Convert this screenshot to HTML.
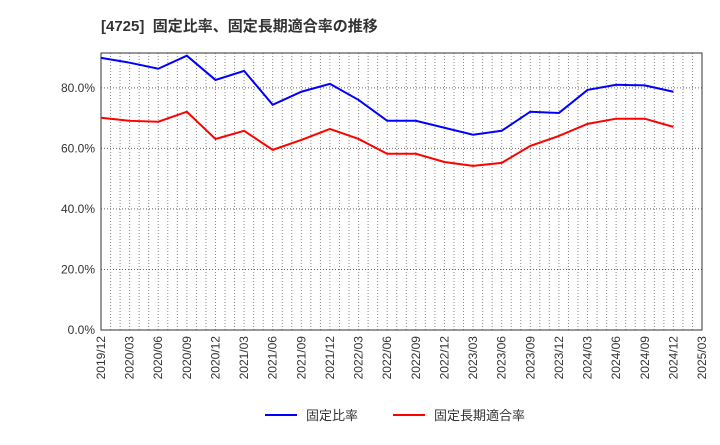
<!DOCTYPE html>
<html><head><meta charset="utf-8"><style>
body{margin:0;background:#fff;font-family:"Liberation Sans","Noto Sans CJK JP",sans-serif}
</style></head><body>
<svg id="c" width="720" height="440" xmlns="http://www.w3.org/2000/svg">
<text x="101" y="31" font-size="15" font-weight="bold" fill="#333" xml:space="preserve">[4725]  固定比率、固定長期適合率の推移</text>
<g id="grid"></g><g id="axes"></g><g id="series"></g>
<g>
<line x1="265" y1="415" x2="297" y2="415" stroke="#0000ff" stroke-width="2"/>
<text x="306" y="420" font-size="13" fill="#333">固定比率</text>
<line x1="393" y1="415" x2="425" y2="415" stroke="#ff0000" stroke-width="2"/>
<text x="434" y="420" font-size="13" fill="#333">固定長期適合率</text>
</g>
</svg>
<script>
const xLabels=["2019/12","2020/03","2020/06","2020/09","2020/12","2021/03","2021/06","2021/09","2021/12","2022/03","2022/06","2022/09","2022/12","2023/03","2023/06","2023/09","2023/12","2024/03","2024/06","2024/09","2024/12","2025/03"];
const yTicks=[0,20,40,60,80];
const fixedRatio=[89.9,88.3,86.3,90.6,82.6,85.6,74.4,78.7,81.3,76.0,69.1,69.1,66.8,64.5,65.8,72.1,71.7,79.3,81.0,80.8,78.7];
const longTermFit=[70.1,69.1,68.8,72.1,63.1,65.8,59.5,62.8,66.4,63.1,58.2,58.2,55.5,54.2,55.2,60.8,64.1,68.1,69.8,69.8,67.1];
const L=101,R=702,T=53,B=330,YMAX=91.5;
const xs=i=>L+(R-L)*i/(xLabels.length-1);
const ys=v=>B-(B-T)*v/YMAX;
const NS="http://www.w3.org/2000/svg";
function mk(p,t,a){const e=document.createElementNS(NS,t);for(const k in a)e.setAttribute(k,a[k]);p.appendChild(e);return e;}
const g=document.getElementById('grid'),ax=document.getElementById('axes'),s=document.getElementById('series');
for(let m=1;m<(xLabels.length-1)*3;m++){const x=L+(R-L)*m/((xLabels.length-1)*3);
const l=mk(g,'line',{x1:x,y1:T,x2:x,y2:B,stroke:'#888','stroke-dasharray':'1,2','stroke-width':1});

}
yTicks.forEach(v=>{const y=ys(v);
if(v>0){const l=mk(g,'line',{x1:L,y1:y,x2:R,y2:y,stroke:'#666','stroke-dasharray':'1,2','stroke-width':1});

}
const t=mk(ax,'text',{x:L-6,y:y+4,'text-anchor':'end','font-size':12,fill:'#333'});t.textContent=v.toFixed(1)+'%';

});
const fr=mk(ax,'rect',{x:L,y:T,width:R-L,height:B-T,fill:'none',stroke:'#333','stroke-width':1});


xLabels.forEach((lb,i)=>{const x=xs(i);
const t=mk(ax,'text',{x:x+4,y:B+6,'text-anchor':'end','font-size':12,fill:'#333',transform:`rotate(-90 ${x+4} ${B+6})`});t.textContent=lb;

});
function line(d,c,n){const p=mk(s,'polyline',{points:d.map((v,i)=>xs(i)+','+ys(v)).join(' '),fill:'none',stroke:c,'stroke-width':2});

}
line(fixedRatio,'#0000ff','fixed-ratio-line');
line(longTermFit,'#ff0000','long-term-fit-line');
</script>
</body></html>
